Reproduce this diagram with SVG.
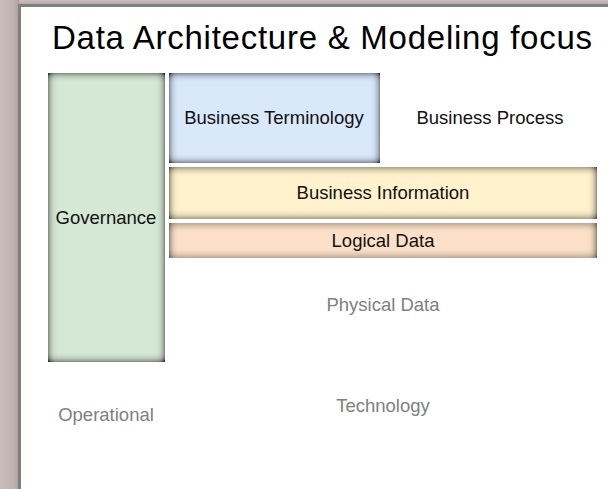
<svg xmlns="http://www.w3.org/2000/svg" width="608" height="489" viewBox="0 0 608 489">
  <defs>
    <linearGradient id="bgLeft" x1="0" y1="0" x2="1" y2="0">
      <stop offset="0" stop-color="#cbbdbd"/>
      <stop offset="0.7" stop-color="#c2b2b2"/>
      <stop offset="1" stop-color="#ad9f9f"/>
    </linearGradient>
    <linearGradient id="bgTop" x1="0" y1="0" x2="0" y2="1">
      <stop offset="0" stop-color="#cbbdbd"/>
      <stop offset="1" stop-color="#b3a5a5"/>
    </linearGradient>
    <filter id="inset" x="-10%" y="-10%" width="120%" height="120%">
      <feFlood flood-color="#333333" flood-opacity="1" result="f"/>
      <feComposite in="f" in2="SourceAlpha" operator="out" result="outside"/>
      <feGaussianBlur in="outside" stdDeviation="4" result="blur"/>
      <feComponentTransfer in="blur" result="strong">
        <feFuncA type="linear" slope="1.5" intercept="0"/>
      </feComponentTransfer>
      <feComposite in="strong" in2="SourceAlpha" operator="in" result="shadow"/>
      <feMerge>
        <feMergeNode in="SourceGraphic"/>
        <feMergeNode in="shadow"/>
      </feMerge>
    </filter>
    <style>
      .lbl { font-family: "Liberation Sans", Arial, sans-serif; font-size: 18.5px; fill: #111; text-anchor: middle; }
      .dim { font-family: "Liberation Sans", Arial, sans-serif; font-size: 18.5px; fill: #808080; text-anchor: middle; }
      .title { font-family: "Liberation Sans", Arial, sans-serif; font-size: 33px; fill: #000; }
      .box { filter: url(#inset); }
    </style>
  </defs>

  <g id="background">
    <rect x="0" y="0" width="608" height="489" fill="#c6b6b6"/>
    <rect x="0" y="0" width="19" height="489" fill="url(#bgLeft)"/>
    <rect x="19" y="0" width="589" height="5" fill="url(#bgTop)"/>
    <rect x="18" y="4" width="590" height="485" fill="#7f7f7f"/>
    <rect x="21" y="7" width="587" height="482" fill="#ffffff"/>
  </g>

  <g id="title">
    <text class="title" x="52" y="49" textLength="540" lengthAdjust="spacing">Data Architecture &amp; Modeling focus</text>
  </g>

  <g id="governance">
    <rect class="box" x="48" y="73" width="117" height="289" fill="#d5e8d4"/>
    <text class="lbl" x="106" y="224">Governance</text>
  </g>

  <g id="business-terminology">
    <rect class="box" x="169" y="73" width="211" height="90" fill="#dae8fc"/>
    <text class="lbl" x="274" y="124">Business Terminology</text>
  </g>

  <g id="business-process">
    <text class="lbl" x="490" y="124">Business Process</text>
  </g>

  <g id="business-information">
    <rect class="box" x="169" y="167" width="428" height="52" fill="#fff2cc"/>
    <text class="lbl" x="383" y="199">Business Information</text>
  </g>

  <g id="logical-data">
    <rect class="box" x="169" y="223" width="428" height="35" fill="#fce1c8"/>
    <text class="lbl" x="383" y="247">Logical Data</text>
  </g>

  <g id="physical-data">
    <text class="dim" x="383" y="311">Physical Data</text>
  </g>

  <g id="operational">
    <text class="dim" x="106" y="421">Operational</text>
  </g>

  <g id="technology">
    <text class="dim" x="383" y="412">Technology</text>
  </g>

  <g id="connectors"/>
</svg>
